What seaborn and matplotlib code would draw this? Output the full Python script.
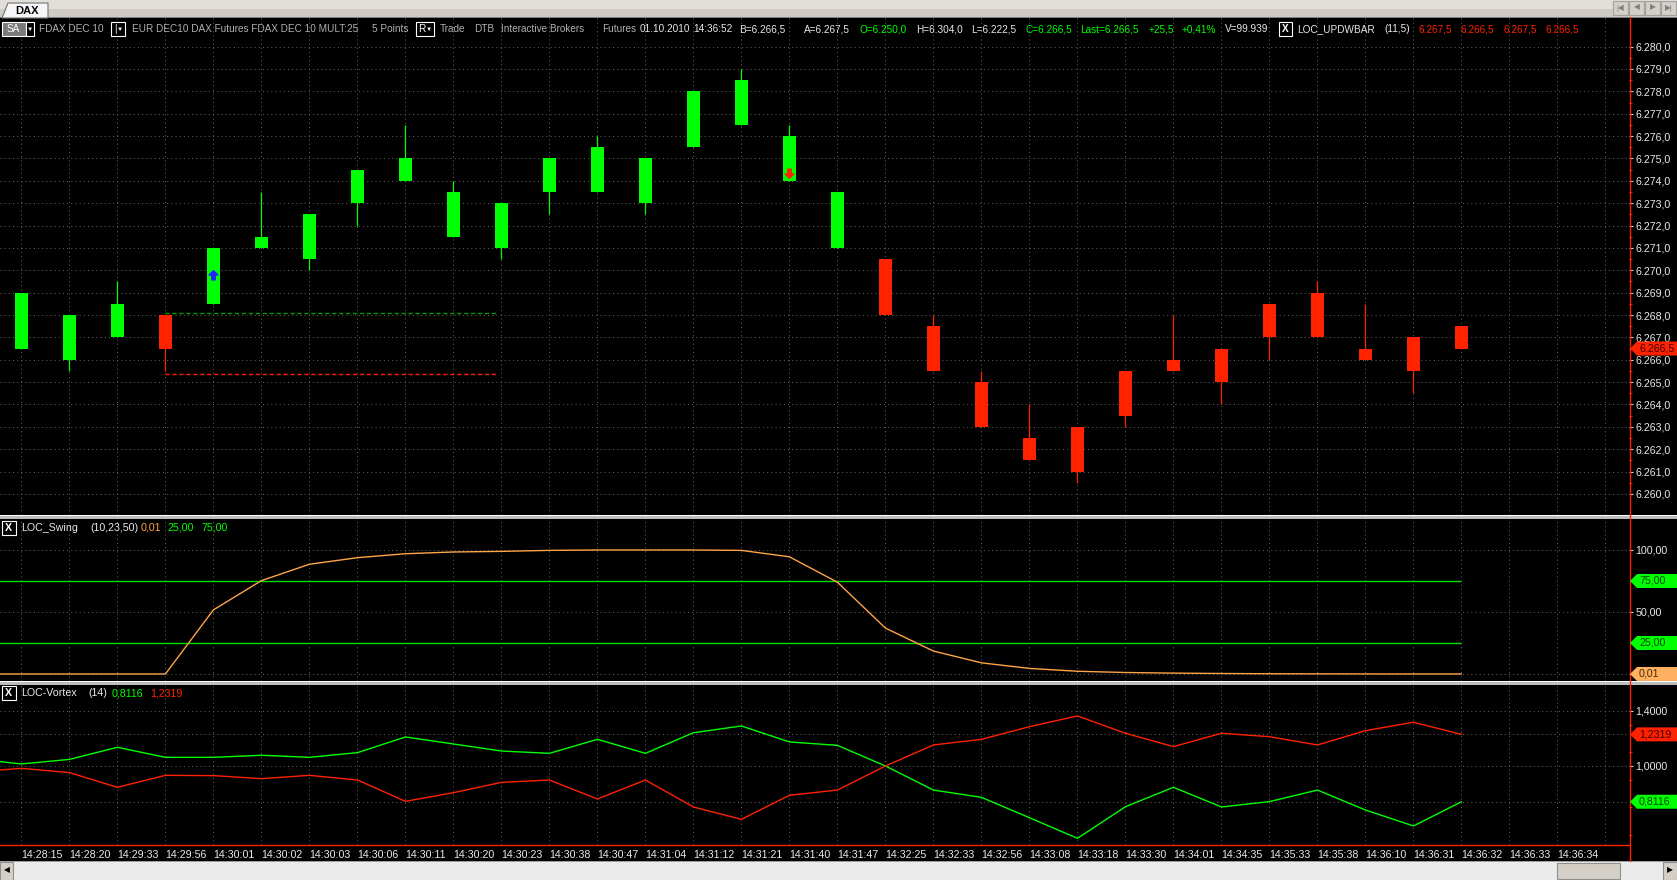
import numpy as np
import pandas as pd
import seaborn as sns
import matplotlib.pyplot as plt
from matplotlib.patches import Rectangle, Polygon

W, H = 1677, 880

# ---- data ----
times = ['14:28:15', '14:28:20', '14:29:33', '14:29:56', '14:30:01', '14:30:02', '14:30:03',
         '14:30:06', '14:30:11', '14:30:20', '14:30:23', '14:30:38', '14:30:47', '14:31:04',
         '14:31:12', '14:31:21', '14:31:40', '14:31:47', '14:32:25', '14:32:33', '14:32:56',
         '14:33:08', '14:33:18', '14:33:30', '14:34:01', '14:34:35', '14:35:33', '14:35:38',
         '14:36:10', '14:36:31', '14:36:32', '14:36:33', '14:36:34']

opens = [6266.5, 6266.0, 6267.0, 6268.0, 6268.5, 6271.0, 6270.5, 6273.0, 6274.0, 6271.5, 6271.0,
         6273.5, 6273.5, 6273.0, 6275.5, 6276.5, 6274.0, 6271.0, 6270.5, 6267.5, 6265.0, 6262.5,
         6263.0, 6265.5, 6266.0, 6266.5, 6268.5, 6269.0, 6266.5, 6267.0, 6267.5]
highs = [6269.0, 6268.0, 6269.5, 6268.0, 6271.0, 6273.5, 6272.5, 6274.5, 6276.5, 6274.0, 6273.0,
         6275.0, 6276.0, 6275.0, 6278.0, 6279.0, 6276.5, 6273.5, 6270.5, 6268.0, 6265.5, 6264.0,
         6263.0, 6265.5, 6268.0, 6266.5, 6268.5, 6269.5, 6268.5, 6267.0, 6267.5]
lows = [6266.5, 6265.5, 6267.0, 6265.5, 6268.5, 6271.0, 6270.0, 6272.0, 6274.0, 6271.5, 6270.5,
        6272.5, 6273.5, 6272.5, 6275.5, 6276.5, 6274.0, 6271.0, 6268.0, 6265.5, 6263.0, 6261.5,
        6260.5, 6263.0, 6265.5, 6264.0, 6266.0, 6267.0, 6266.0, 6264.5, 6266.5]
closes = [6269.0, 6268.0, 6268.5, 6266.5, 6271.0, 6271.5, 6272.5, 6274.5, 6275.0, 6273.5, 6273.0,
          6275.0, 6275.5, 6275.0, 6278.0, 6278.5, 6276.0, 6273.5, 6268.0, 6265.5, 6263.0, 6261.5,
          6261.0, 6263.5, 6265.5, 6265.0, 6267.0, 6267.0, 6266.0, 6265.5, 6266.5]

# swing box (dashed levels) and the two signal arrows
box_from, box_to = 3, 9.93
box_high, box_low = 6268.1, 6265.35
buy_bar, buy_price = 4, 6269.8
sell_bar, sell_price = 16, 6274.35
last_price = 6266.5

# indicator values, bar -1 .. 30
ind_bars = list(range(-1, 31))
swing = [0, 0, 0, 0, 0, 51.7, 75.3, 88.5, 93.8, 97.0, 98.4, 98.9, 99.7, 100, 100, 100, 99.7,
         94.5, 74, 37, 18.5, 9, 4.5, 2.2, 1.2, 0.7, 0.4, 0.2, 0.1, 0.05, 0.02, 0.01]
swing_levels = [25, 75]
vi_plus = [1.053, 1.015, 1.048, 1.136, 1.063, 1.063, 1.078, 1.063, 1.097, 1.211, 1.160, 1.109,
           1.092, 1.194, 1.092, 1.242, 1.291, 1.175, 1.150, 1.0, 0.825, 0.772, 0.624, 0.474,
           0.704, 0.845, 0.702, 0.741, 0.825, 0.680, 0.564, 0.74]
vi_minus = [0.956, 0.983, 0.952, 0.845, 0.932, 0.930, 0.908, 0.932, 0.898, 0.743, 0.806, 0.881,
            0.898, 0.760, 0.898, 0.702, 0.612, 0.787, 0.825, 1.0, 1.153, 1.194, 1.286, 1.364,
            1.238, 1.141, 1.238, 1.213, 1.153, 1.257, 1.318, 1.23]

GREEN = '#00ff00'
RED = '#ff2200'
ORANGE = '#ffa448'
LEVEL_GREEN = '#00dd00'
GRID = '#5e5e5e'
TXT = '#e8e8e8'
GRAY_TXT = '#b0b0b0'
FS = 7.7
HFS = 7.2


def de_num(v, d):
    s = f"{v:,.{d}f}"
    return s.replace(',', '#').replace('.', ',').replace('#', '.')


sns.set_theme(style='dark', rc={'axes.facecolor': 'black', 'figure.facecolor': 'black',
                                'savefig.facecolor': 'black'})
plt.rcParams['font.family'] = ['Liberation Sans', 'DejaVu Sans']

fig = plt.figure(figsize=(W / 100, H / 100), dpi=100, facecolor='black')


def rect(x0, y0, x1, y1):
    return [x0 / W, 1 - y1 / H, (x1 - x0) / W, (y1 - y0) / H]


def box(x0, y0, x1, y1, **kw):
    fig.add_artist(Rectangle((x0 / W, 1 - y1 / H), (x1 - x0) / W, (y1 - y0) / H,
                             transform=fig.transFigure, **kw))


def ftext(x, y, s, **kw):
    kw.setdefault('fontsize', FS)
    kw.setdefault('va', 'center')
    kw.setdefault('ha', 'left')
    fig.text(x / W, 1 - y / H, s, **kw)


ax1 = fig.add_axes(rect(0, 18, 1629, 514.5))
ax2 = fig.add_axes(rect(0, 519, 1629, 681))
ax3 = fig.add_axes(rect(0, 685, 1629, 845))
axes = [ax1, ax2, ax3]

# ---- candles ----
df = pd.DataFrame({'open': opens, 'high': highs, 'low': lows, 'close': closes})
df['bar'] = np.arange(len(df))
cols = np.where(df['close'] >= df['open'], GREEN, RED)
ax1.vlines(df['bar'], df['low'], df['high'], colors=cols, lw=0.9, zorder=3)
ax1.bar(df['bar'], (df['close'] - df['open']).abs(), bottom=df[['open', 'close']].min(axis=1),
        width=0.27, color=cols, linewidth=0, zorder=4)
ax1.hlines(box_high, box_from, box_to, colors='#00a000', linestyles=(0, (3, 2)), lw=1, zorder=2)
ax1.hlines(box_low, box_from, box_to, colors=RED, linestyles=(0, (3, 2)), lw=1, zorder=2)
up_arrow = [(0, 1), (-0.9, 0.1), (-0.35, 0.1), (-0.35, -0.9), (0.35, -0.9), (0.35, 0.1), (0.9, 0.1), (0, 1)]
dn_arrow = [(x, -y) for x, y in up_arrow]
ax1.plot([buy_bar], [buy_price], marker=up_arrow, ms=7, color='#2020ff', ls='none', zorder=5)
ax1.plot([sell_bar], [sell_price], marker=dn_arrow, ms=7, color=RED, ls='none', zorder=5)

# ---- indicators ----
ind = pd.DataFrame({'bar': ind_bars, 'swing': swing, 'vi_plus': vi_plus, 'vi_minus': vi_minus})
ax2.hlines(swing_levels, -1, 30, colors=LEVEL_GREEN, lw=1, zorder=2)
sns.lineplot(data=ind, x='bar', y='swing', ax=ax2, color=ORANGE, lw=1, zorder=3)
vort = ind.melt(id_vars='bar', value_vars=['vi_plus', 'vi_minus'], var_name='line', value_name='v')
sns.lineplot(data=vort, x='bar', y='v', hue='line', ax=ax3, lw=1, legend=False,
             palette={'vi_plus': GREEN, 'vi_minus': RED}, zorder=3)
for v in (vi_plus[-1], vi_minus[-1]):
    ax3.axhline(v, color=GRID, lw=0.75, ls=(0, (1, 3)), zorder=1)

# ---- axes styling ----
for ax in axes:
    ax.set_facecolor('black')
    ax.set_xlim(-0.446, 33.49)
    ax.set_xticks(range(34))
    ax.set_xlabel('')
    ax.set_ylabel('')
    ax.grid(True, which='major', color=GRID, lw=0.75, ls=(0, (1, 3)))
    ax.set_axisbelow(True)
    for s in ax.spines.values():
        s.set_visible(False)
    ax.yaxis.tick_right()
    ax.tick_params(axis='y', which='major', length=3, width=0.8, color='#d0d0d0',
                   labelcolor=TXT, labelsize=FS, pad=1.5, right=True, left=False)
    ax.tick_params(axis='y', which='minor', length=2.2, width=0.8, color=RED, right=True, left=False)
    ax.tick_params(axis='x', length=0, labelbottom=False)

ax1.set_ylim(6259.08, 6281.28)
price_ticks = np.arange(6260, 6281)
ax1.set_yticks(price_ticks)
ax1.set_yticklabels([de_num(v, 1) for v in price_ticks])
ax1.set_yticks(price_ticks[:-1] + 0.5, minor=True)

ax2.set_ylim(-5.65, 125)
ax2.set_yticks([0, 50, 100])
ax2.set_yticklabels(['', '50,00', '100,00'])

ax3.set_ylim(0.4255, 1.589)
ax3.set_yticks([1.0, 1.4])
ax3.set_yticklabels(['1,0000', '1,4000'])
ax3.set_yticks([0.5, 0.7, 0.9, 1.1, 1.3], minor=True)
ax3.spines['bottom'].set_visible(True)
ax3.spines['bottom'].set_color(RED)
ax3.spines['bottom'].set_linewidth(1)
ax3.set_xticklabels(times + [''])
ax3.tick_params(axis='x', length=2.5, width=0.8, color=RED, labelcolor=TXT, labelsize=FS,
                pad=1, labelbottom=True)
plt.setp(ax3.get_xticklabels(), ha='left')

# right axis line and panel separators
fig.add_artist(plt.Line2D([1629.5 / W] * 2, [1 - 17 / H, 1 - 861 / H], color=RED, lw=1,
                          transform=fig.transFigure))
for y0 in (515, 681):
    box(0, y0, W, y0 + 4, fc='#bcbcbc', ec='none')
    box(0, y0, W, y0 + 1.2, fc='white', ec='none')


# value tags on the right axis
def tag(ax, value, text, fc, tc):
    yf = fig.transFigure.inverted().transform(ax.transData.transform((0, value)))[1]
    yc = yf * H
    pts = [(1630, yc), (1637, yc + 7), (1680, yc + 7), (1680, yc - 7), (1637, yc - 7)]
    fig.add_artist(Polygon([(x / W, y / H) for x, y in pts], closed=True,
                           transform=fig.transFigure, fc=fc, ec='none', zorder=5))
    fig.text(1639 / W, yf, text, color=tc, fontsize=FS, va='center', ha='left', zorder=6)


tag(ax1, last_price, de_num(last_price, 1), RED, '#3a0000')
tag(ax2, swing_levels[1], '75,00', GREEN, '#004400')
tag(ax2, swing_levels[0], '25,00', GREEN, '#004400')
tag(ax2, swing[-1], '0,01', '#ffb060', '#4a2a00')
tag(ax3, vi_minus[-1], '1,2319', RED, '#3a0000')
tag(ax3, vi_plus[-1], '0,8116', GREEN, '#004400')

# ---- top tab bar ----
box(0, 0, W, 9, fc='#e2dfda', ec='none')
box(0, 9, W, 17, fc='#cfcbc4', ec='none')
box(0, 17, W, 18, fc='#808080', ec='none')
fig.add_artist(Polygon([(2 / W, 1 - 18 / H), (8 / W, 1 - 3 / H), (48 / W, 1 - 3 / H), (48 / W, 1 - 18 / H)],
                       closed=True, transform=fig.transFigure, fc='#f6f6f6', ec='#707070', lw=0.8))
ftext(27, 10.5, 'DAX', ha='center', color='black', fontweight='bold', fontsize=8)
for i, g in enumerate(['|◀', '◀', '▶', '▶|']):
    x0 = 1613 + i * 16
    box(x0, 1, x0 + 15, 15, fc='#d4d0c8', ec='#a0a0a0', lw=0.8)
    ftext(x0 + 7.5, 8, g, ha='center', color='#808080', fontsize=5.5)

# ---- header line ----
hy = 29.5
box(1.5, 22, 25.5, 36.5, fc='#7a7a7a', ec='white', lw=0.8)
ftext(13.5, hy, 'SA', ha='center', color='white', fontsize=HFS)
box(25.5, 22, 33.7, 36.5, fc='black', ec='white', lw=0.8)
ftext(29.6, hy, '▼', ha='center', color='white', fontsize=4.5)
box(111, 22, 125, 36.5, fc='black', ec='white', lw=0.8)
ftext(114, hy, '|', color='white', fontsize=HFS)
ftext(120, hy, '▼', ha='center', color='white', fontsize=4.5)
box(416, 22, 434, 36.5, fc='black', ec='white', lw=0.8)
ftext(418.5, hy, 'R', color='white', fontsize=HFS)
ftext(429, hy, '▼', ha='center', color='white', fontsize=4.5)
box(1278.5, 22, 1291.5, 36.5, fc='black', ec='white', lw=0.8)
ftext(1285, hy, 'X', ha='center', color='white', fontweight='bold', fontsize=HFS)

head_pieces = [
    (38.8, 'FDAX DEC 10', GRAY_TXT),
    (131.6, 'EUR DEC10 DAX Futures FDAX DEC 10 MULT:25', GRAY_TXT),
    (372, '5 Points', GRAY_TXT),
    (440, 'Trade', GRAY_TXT),
    (474.5, 'DTB', GRAY_TXT),
    (501, 'Interactive Brokers', GRAY_TXT),
    (602, 'Futures', GRAY_TXT),
    (640, '01.10.2010', TXT),
    (693, '14:36:52', TXT),
    (739, 'B=6.266,5', TXT),
    (804, 'A=6.267,5', TXT),
    (860, 'O=6.250,0', GREEN),
    (915.7, 'H=6.304,0', TXT),
    (971, 'L=6.222,5', TXT),
    (1025, 'C=6.266,5', GREEN),
    (1080, 'Last=6.266,5', GREEN),
    (1149, '+25,5', GREEN),
    (1182, '+0,41%', GREEN),
    (1225, 'V=99.939', TXT),
    (1297.6, 'LOC_UPDWBAR', TXT),
    (1384, '(11,5)', TXT),
    (1418.7, '6.267,5', RED),
    (1460.7, '6.266,5', RED),
    (1503, '6.267,5', RED),
    (1545, '6.266,5', RED),
]
for x, s, c in head_pieces:
    ftext(x, hy, s, color=c, fontsize=HFS)

# ---- panel titles ----
for ty, pieces in [(527.5, [(21.4, 'LOC_Swing', TXT), (90, '(10,23,50)', TXT), (141, '0,01', ORANGE),
                            (168, '25,00', GREEN), (201, '75,00', GREEN)]),
                   (693, [(21.4, 'LOC-Vortex', TXT), (88, '(14)', TXT), (112, '0,8116', GREEN),
                          (150, '1,2319', RED)])]:
    box(2, ty - 7, 15.5, ty + 7, fc='black', ec='white', lw=0.8)
    ftext(8.75, ty, 'X', ha='center', color='white', fontweight='bold')
    for x, s, c in pieces:
        ftext(x, ty, s, color=c)

# ---- bottom scrollbar ----
box(0, 861, W, 880, fc='#ebebeb', ec='none')
box(0, 861, W, 862, fc='#a0a0a0', ec='none')
box(0, 862, 13, 880, fc='#d4d0c8', ec='#909090', lw=0.8)
ftext(6.5, 871, '◀', ha='center', color='black', fontsize=5.5)
box(1557, 863, 1620, 879, fc='#d4d0c8', ec='#909090', lw=0.8)
box(1663, 862, 1677, 880, fc='#d4d0c8', ec='#909090', lw=0.8)
ftext(1670, 871, '▶', ha='center', color='black', fontsize=5.5)

fig.savefig('out.png', dpi=100, facecolor='black')
